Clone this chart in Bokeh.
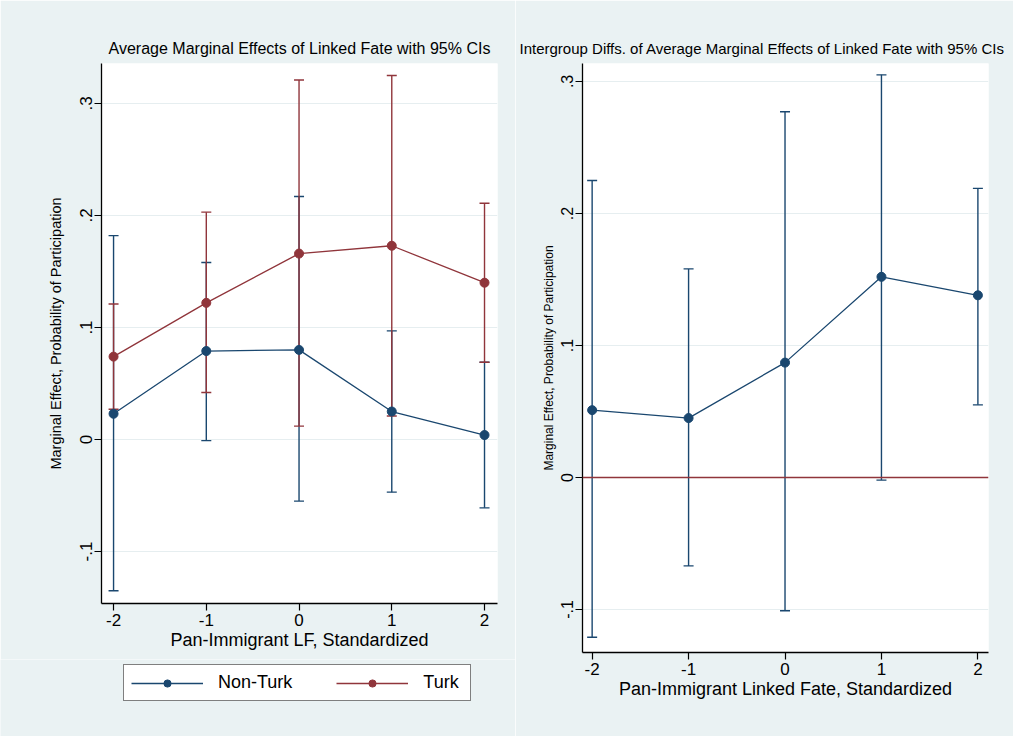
from bokeh.plotting import figure
from bokeh.layouts import row, column
from bokeh.models import (ColumnDataSource, Range1d, FixedTicker, Whisker, TeeHead,
                          Span, Legend, LegendItem)
from bokeh.embed import file_html
from bokeh.resources import INLINE

# ---- data ----
lf_x = [-2, -1, 0, 1, 2]
nonturk_me = [0.023, 0.079, 0.080, 0.025, 0.004]
nonturk_lo = [-0.135, -0.001, -0.055, -0.047, -0.061]
nonturk_hi = [0.182, 0.158, 0.217, 0.097, 0.069]
turk_me = [0.074, 0.122, 0.166, 0.173, 0.140]
turk_lo = [0.027, 0.042, 0.012, 0.021, 0.069]
turk_hi = [0.121, 0.203, 0.321, 0.325, 0.211]
diff_me = [0.051, 0.045, 0.087, 0.152, 0.138]
diff_lo = [-0.121, -0.067, -0.101, -0.002, 0.055]
diff_hi = [0.225, 0.158, 0.277, 0.305, 0.219]
y_ticks = [-0.1, 0.0, 0.1, 0.2, 0.3]
y_tick_labels = ["-.1", "0", ".1", ".2", ".3"]
x_ticks = [-2, -1, 0, 1, 2]
x_tick_labels = ["-2", "-1", "0", "1", "2"]
series_names = ["Non-Turk", "Turk"]

NAVY = "#1A476F"
MAROON = "#90353B"
BG = "#EAF2F3"
GRID = "#E6EEF0"
FONT = "Liberation Sans"
H = 736
H1 = 659          # left plot height (frame bottom at 603)
HL = H - H1       # legend strip height


def style(p, ylab_size, ytick_size, ylab_standoff):
    try:
        p.frame_align = False
    except Exception:
        pass
    p.outline_line_color = None
    p.background_fill_color = "white"
    p.border_fill_color = BG
    p.xgrid.grid_line_color = None
    p.ygrid.grid_line_color = GRID
    p.ygrid.grid_line_width = 1
    p.xaxis.ticker = FixedTicker(ticks=x_ticks)
    p.xaxis.major_label_overrides = dict(zip(x_ticks, x_tick_labels))
    p.yaxis.ticker = FixedTicker(ticks=y_ticks)
    p.yaxis.major_label_overrides = dict(zip(y_ticks, y_tick_labels))
    p.yaxis.major_label_orientation = "vertical"
    for ax in (p.xaxis[0], p.yaxis[0]):
        ax.axis_line_color = "black"
        ax.axis_line_width = 1.3
        ax.major_tick_line_color = "black"
        ax.major_tick_line_width = 1.2
        ax.major_tick_out = 7
        ax.major_tick_in = 0
        ax.minor_tick_line_color = None
        ax.major_label_text_font = FONT
        ax.major_label_text_color = "black"
        ax.axis_label_text_font = FONT
        ax.axis_label_text_font_style = "normal"
        ax.axis_label_text_color = "black"
    p.xaxis.major_label_text_font_size = "17px"
    p.xaxis.axis_label_text_font_size = "18px"
    p.xaxis.major_label_standoff = 3
    p.xaxis.axis_label_standoff = 1
    p.yaxis.major_label_text_font_size = ytick_size
    p.yaxis.axis_label_text_font_size = ylab_size
    p.yaxis.major_label_standoff = 2
    p.yaxis.axis_label_standoff = ylab_standoff
    p.title.text_font = FONT
    p.title.text_font_style = "normal"
    p.title.text_color = "black"
    p.title.standoff = 13


# ---- left panel ----
p1 = figure(width=515, height=H1, output_backend="svg", toolbar_location=None,
            x_range=Range1d(-2.13, 2.14), y_range=Range1d(-0.1464, 0.3357),
            min_border_left=101, min_border_right=18, min_border_top=63,
            min_border_bottom=H1 - 603,
            title="Average Marginal Effects of Linked Fate with 95% CIs",
            x_axis_label="Pan-Immigrant LF, Standardized",
            y_axis_label="Marginal Effect, Probability of Participation")
style(p1, "14.5px", "17px", 14)
p1.title.text_font_size = "16px"
p1.title.align = "center"

src_nt = ColumnDataSource(dict(x=lf_x, y=nonturk_me, lo=nonturk_lo, hi=nonturk_hi))
src_t = ColumnDataSource(dict(x=lf_x, y=turk_me, lo=turk_lo, hi=turk_hi))

for src, col in ((src_nt, NAVY), (src_t, MAROON)):
    p1.add_layout(Whisker(source=src, base="x", upper="hi", lower="lo", dimension="height",
                          line_color=col, line_width=1.4,
                          upper_head=TeeHead(size=10, line_color=col, line_width=1.4),
                          lower_head=TeeHead(size=10, line_color=col, line_width=1.4)))
    p1.line("x", "y", source=src, line_color=col, line_width=1.3)
    p1.scatter("x", "y", source=src, marker="circle", size=9,
               fill_color=col, line_color=col)

# ---- legend strip under the left panel (same series, drawn out of view) ----
pl = figure(width=515, height=HL, output_backend="svg", toolbar_location=None,
            x_axis_location=None, y_axis_location=None,
            x_range=Range1d(10, 11), y_range=Range1d(10, 11),
            min_border=0, min_border_left=0, min_border_right=0,
            min_border_top=0, min_border_bottom=0)
try:
    pl.frame_align = False
except Exception:
    pass
pl.outline_line_color = None
pl.background_fill_color = BG
pl.border_fill_color = BG
pl.grid.grid_line_color = None
legend_items = []
for src, col, name in ((src_nt, NAVY, series_names[0]), (src_t, MAROON, series_names[1])):
    lr = pl.line("x", "y", source=src, line_color=col, line_width=1.3)
    sr = pl.scatter("x", "y", source=src, marker="circle", size=9,
                    fill_color=col, line_color=col)
    legend_items.append(LegendItem(label=name, renderers=[lr, sr]))
leg = Legend(items=legend_items, location=(123, 35), orientation="horizontal",
             border_line_color="black", border_line_width=1,
             background_fill_color="white", background_fill_alpha=1.0,
             padding=7, spacing=44, margin=0, glyph_width=72, glyph_height=18,
             label_standoff=15, label_width=40, label_text_font=FONT,
             label_text_font_size="18px", label_text_color="black")
pl.add_layout(leg)

# ---- right panel ----
p2 = figure(width=498, height=H, output_backend="svg", toolbar_location=None,
            x_range=Range1d(-2.10, 2.11), y_range=Range1d(-0.1326, 0.3136),
            min_border_left=67, min_border_right=25, min_border_top=63,
            min_border_bottom=H - 652,
            title="Intergroup Diffs. of Average Marginal Effects of Linked Fate with 95% CIs",
            x_axis_label="Pan-Immigrant Linked Fate, Standardized",
            y_axis_label="Marginal Effect, Probability of Participation")
style(p2, "12px", "16px", 3)
p2.title.text_font_size = "15px"
p2.title.align = "left"
p2.title.offset = -63

p2.add_layout(Span(location=0, dimension="width", line_color=MAROON, line_width=1.4))
src_d = ColumnDataSource(dict(x=lf_x, y=diff_me, lo=diff_lo, hi=diff_hi))
p2.add_layout(Whisker(source=src_d, base="x", upper="hi", lower="lo", dimension="height",
                      line_color=NAVY, line_width=1.4,
                      upper_head=TeeHead(size=10, line_color=NAVY, line_width=1.4),
                      lower_head=TeeHead(size=10, line_color=NAVY, line_width=1.4)))
p2.line("x", "y", source=src_d, line_color=NAVY, line_width=1.3)
p2.scatter("x", "y", source=src_d, marker="circle", size=9, fill_color=NAVY, line_color=NAVY)

layout = row(column(p1, pl), p2)
open("out.html", "w").write(file_html(layout, INLINE))
